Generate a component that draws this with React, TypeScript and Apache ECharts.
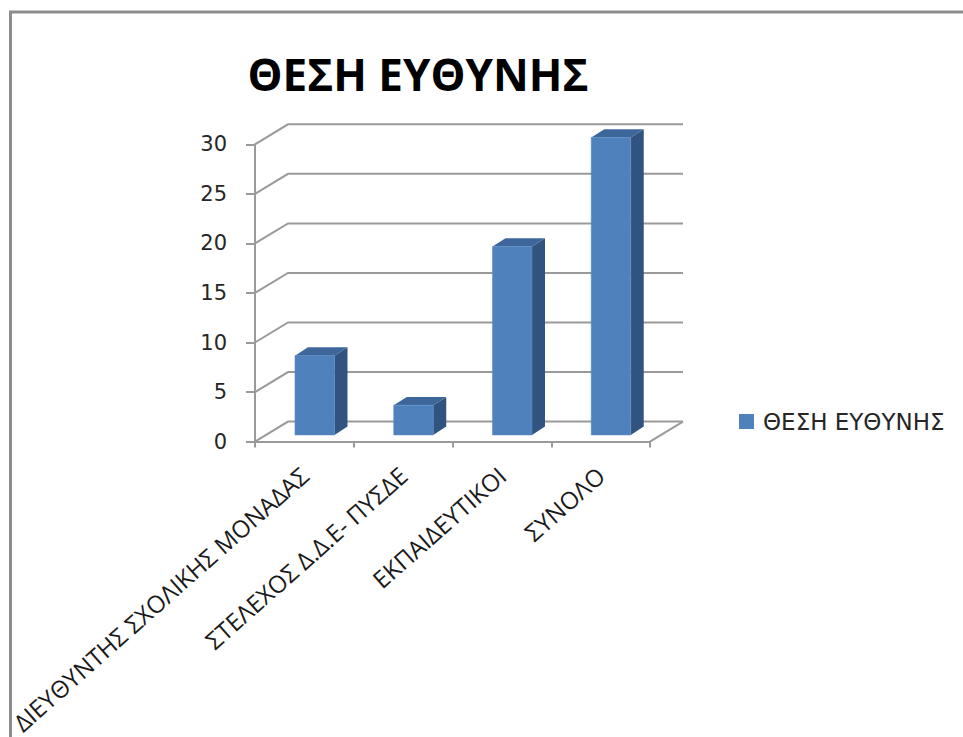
import React, { useEffect, useRef } from "react";
import * as echarts from "echarts";

// Chart content
const chartTitle = "ΘΕΣΗ ΕΥΘΥΝΗΣ";
const seriesName = "ΘΕΣΗ ΕΥΘΥΝΗΣ";
const categories = [
  "ΔΙΕΥΘΥΝΤΗΣ ΣΧΟΛΙΚΗΣ ΜΟΝΑΔΑΣ",
  "ΣΤΕΛΕΧΟΣ Δ.Δ.Ε- ΠΥΣΔΕ",
  "ΕΚΠΑΙΔΕΥΤΙΚΟΙ",
  "ΣΥΝΟΛΟ",
];
const values = [8, 3, 19, 30];
const yTicks = [0, 5, 10, 15, 20, 25, 30];

// 3D look: offset of the back wall and of each bar's depth
const WALL_DX = 33;
const WALL_DY = -20;
const BAR_SHIFT_Y = -6.7;
const BAR_DEPTH_X = 13;
const BAR_DEPTH_Y = -8.3;

const FRONT = "#4f81bd";
const SIDE = "#30537f";
const TOP = "#3d679b";
const GRID = "#9a9a9a";

export default function App() {
  const ref = useRef<HTMLDivElement>(null);

  useEffect(() => {
    if (!ref.current) return;
    const chart = echarts.init(ref.current, undefined, { renderer: "svg" });

    const wallSeries = {
      type: "custom",
      name: "walls",
      silent: true,
      z: 1,
      clip: false,
      data: yTicks.map((v) => [0, v]),
      renderItem: (_params: any, api: any) => {
        const v = api.value(1);
        const p = api.coord([0, v]);
        const band = api.size([1, 0])[0];
        const left = p[0] - band / 2;
        const right = left + categories.length * band;
        const y = p[1];
        const children: any[] = [
          {
            type: "polyline",
            shape: {
              points: [
                [left, y],
                [left + WALL_DX, y + WALL_DY],
                [right + WALL_DX, y + WALL_DY],
              ],
            },
            style: { stroke: GRID, lineWidth: 2, fill: null },
          },
        ];
        if (v === 0) {
          children.push({
            type: "line",
            shape: { x1: right, y1: y, x2: right + WALL_DX, y2: y + WALL_DY },
            style: { stroke: GRID, lineWidth: 2 },
          });
        }
        return { type: "group", children };
      },
    };

    const barSeries = {
      type: "custom",
      name: seriesName,
      z: 3,
      clip: false,
      itemStyle: { color: FRONT },
      data: values.map((v, i) => [i, v]),
      renderItem: (_params: any, api: any) => {
        const i = api.value(0);
        const v = api.value(1);
        const base = api.coord([i, 0]);
        const top = api.coord([i, v]);
        const band = api.size([1, 0])[0];
        const x0 = base[0] - band / 2 + 0.405 * band;
        const w = 0.4 * band;
        const yb = base[1] + BAR_SHIFT_Y;
        const yt = top[1] + BAR_SHIFT_Y;
        const x1 = x0 + w;
        return {
          type: "group",
          children: [
            {
              type: "polygon",
              shape: {
                points: [
                  [x1, yt],
                  [x1 + BAR_DEPTH_X, yt + BAR_DEPTH_Y],
                  [x1 + BAR_DEPTH_X, yb + BAR_DEPTH_Y],
                  [x1, yb],
                ],
              },
              style: { fill: SIDE },
            },
            {
              type: "polygon",
              shape: {
                points: [
                  [x0, yt],
                  [x0 + BAR_DEPTH_X, yt + BAR_DEPTH_Y],
                  [x1 + BAR_DEPTH_X, yt + BAR_DEPTH_Y],
                  [x1, yt],
                ],
              },
              style: { fill: TOP },
            },
            {
              type: "rect",
              shape: { x: x0, y: yt, width: w, height: yb - yt },
              style: { fill: FRONT, stroke: "#5a8ac4", lineWidth: 0.6 },
            },
          ],
        };
      },
    };

    chart.setOption({
      animation: false,
      backgroundColor: "#ffffff",
      title: {
        text: chartTitle,
        left: 413,
        textAlign: "center",
        top: 47,
        textStyle: {
          fontFamily: "Open Sans",
          fontWeight: "bold",
          fontSize: 44,
          color: "#000000",
        },
      },
      legend: {
        data: [seriesName],
        left: 739,
        top: 410,
        padding: 0,
        icon: "rect",
        itemWidth: 15,
        itemHeight: 15,
        textStyle: {
          fontFamily: "DejaVu Sans",
          fontSize: 23,
          color: "#262626",
          padding: [0, 0, 0, 4],
        },
      },
      grid: {
        left: 255,
        top: 144.3,
        width: 395,
        height: 297.4,
        containLabel: false,
      },
      xAxis: {
        type: "category",
        data: categories,
        boundaryGap: true,
        axisLine: { show: true, lineStyle: { color: GRID, width: 2 } },
        axisTick: { show: true, length: 6, alignWithLabel: false, lineStyle: { color: GRID, width: 2 } },
        axisLabel: {
          interval: 0,
          rotate: 41.5,
          margin: 30,
          fontFamily: "Open Sans",
          fontSize: 24,
          color: "#1a1a1a",
        },
        splitLine: { show: false },
      },
      yAxis: {
        type: "value",
        min: 0,
        max: 30,
        interval: 5,
        axisLine: { show: true, lineStyle: { color: GRID, width: 2 } },
        axisTick: { show: true, length: 9, lineStyle: { color: GRID, width: 2 } },
        axisLabel: {
          margin: 28,
          fontFamily: "DejaVu Sans",
          fontSize: 21,
          color: "#262626",
        },
        splitLine: { show: false },
      },
      graphic: [
        {
          type: "rect",
          silent: true,
          z: 0,
          shape: { x: 10.5, y: 12, width: 1000, height: 800 },
          style: { fill: null, stroke: "#8c8c8c", lineWidth: 3 },
        },
      ],
      series: [wallSeries, barSeries],
    });

    return () => chart.dispose();
  }, []);

  return (
    <div
      ref={ref}
      style={{ position: "fixed", left: 0, top: 0, width: 963, height: 737 }}
    />
  );
}
